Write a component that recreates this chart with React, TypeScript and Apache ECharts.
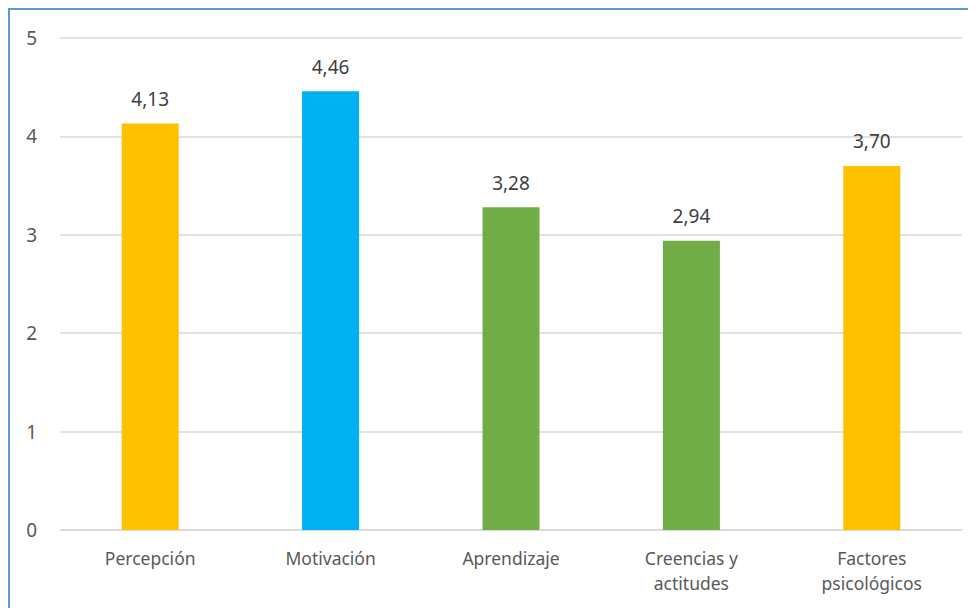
import React, { useEffect, useRef } from "react";
import * as echarts from "echarts";

const categories = ["Percepción", "Motivación", "Aprendizaje", "Creencias y\nactitudes", "Factores\npsicológicos"];
const values = [4.13, 4.46, 3.28, 2.94, 3.7];
const colors = ["#FFC000", "#00B0F0", "#70AD47", "#70AD47", "#FFC000"];
const yTicks = [0, 1, 2, 3, 4, 5];

export default function App() {
  const ref = useRef<HTMLDivElement>(null);
  useEffect(() => {
    if (!ref.current) return;
    const chart = echarts.init(ref.current, undefined, { renderer: "svg" });
    const font = "Noto Sans";
    chart.setOption({
      animation: false,
      grid: { left: 50, right: 14, top: 28, bottom: 78, containLabel: false },
      xAxis: {
        type: "category",
        data: categories,
        axisLine: { show: true, lineStyle: { color: "#D9D9D9", width: 1.5 } },
        axisTick: { show: false },
        axisLabel: { color: "#595959", fontSize: 17.5, fontFamily: font, margin: 15, lineHeight: 25 },
      },
      yAxis: {
        type: "value",
        min: yTicks[0],
        max: yTicks[yTicks.length - 1],
        interval: 1,
        axisLine: { show: false },
        axisTick: { show: false },
        axisLabel: { color: "#595959", fontSize: 19, fontFamily: font, margin: 23 },
        splitLine: { lineStyle: { color: "#D9D9D9", width: 1.5 } },
      },
      series: [
        {
          type: "bar",
          data: values.map((v, i) => ({ value: v, itemStyle: { color: colors[i] } })),
          barWidth: "31.6%",
          label: {
            show: true,
            position: "top",
            distance: 15,
            color: "#404040",
            fontSize: 19,
            fontFamily: font,
            formatter: (p: any) => p.value.toFixed(2).replace(".", ","),
          },
        },
      ],
    });
    return () => chart.dispose();
  }, []);
  return (
    <div style={{ width: 966, height: 598, border: "2px solid #5B9BD5", background: "#fff" }}>
      <div ref={ref} style={{ width: 966, height: 598 }} />
    </div>
  );
}
